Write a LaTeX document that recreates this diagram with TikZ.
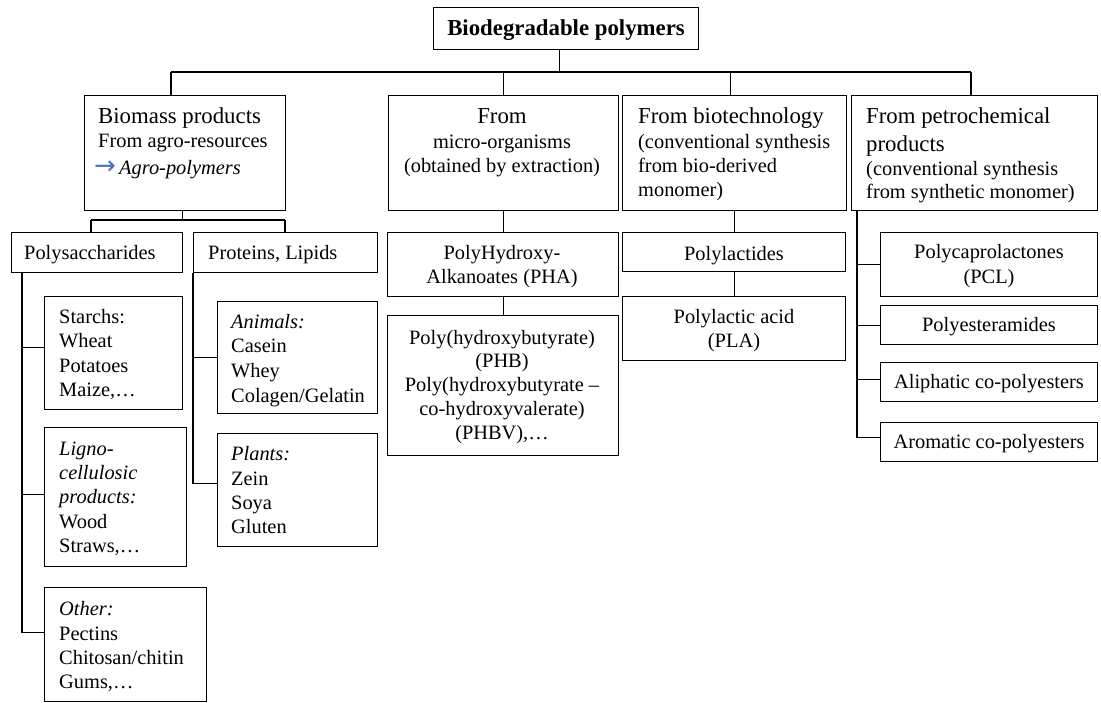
\documentclass[tikz,border=0pt]{standalone}
\usepackage{fontspec}
\setmainfont{Liberation Serif}
\newfontfamily\symfont{DejaVu Sans}
\newcommand\fsbody{\fontsize{20.4}{24}\selectfont}
\newcommand\fshead{\fontsize{22.8}{27}\selectfont}
\definecolor{arrowblue}{RGB}{68,114,196}
\newcommand\mybox[5]{\node[box, minimum width={#4-#2}, minimum height={#5-#3}] (#1) at (#2,#3) {};}
\begin{document}
\begin{tikzpicture}[x=1pt,y=-1pt,
  box/.style={draw, line width=1.1pt, inner sep=0, anchor=north west},
  conn/.style={line width=1.1pt},
  tl/.style={inner sep=0, anchor=base west, font=\fsbody},
  tc/.style={inner sep=0, anchor=base, font=\fsbody},
  hl/.style={inner sep=0, anchor=base west, font=\fshead},
  hc/.style={inner sep=0, anchor=base, font=\fshead}]
\useasboundingbox (0,0) rectangle (1101,702);

% boxes
\mybox{top}{433}{7}{698}{49}
\mybox{bio}{84}{95}{285}{210}
\mybox{mic}{388}{95}{618}{210}
\mybox{bt}{622}{95}{846}{210}
\mybox{pet}{851}{95}{1097}{210}
\mybox{poly}{11}{232}{182}{272}
\mybox{prot}{193}{232}{377}{272}
\mybox{pha}{387}{232}{618}{296}
\mybox{phb}{387}{315}{618}{455}
\mybox{plac}{622}{232}{845}{271}
\mybox{pla}{622}{296}{845}{360}
\mybox{pcl}{880}{232}{1097}{296}
\mybox{pea}{880}{305}{1097}{344}
\mybox{ali}{880}{362}{1097}{401}
\mybox{aro}{880}{422}{1097}{461}
\mybox{st}{44}{296}{182}{409}
\mybox{lig}{44}{427}{186}{566}
\mybox{oth}{44}{587}{206}{700.5}
\mybox{ani}{217}{301}{377}{413}
\mybox{pln}{217}{433}{377}{546}

% connectors
\coordinate (busL) at (171,72);
\coordinate (busR) at (971,72);
\draw[conn] (busL) -- (busR);
\draw[conn] ([xshift=-6.5]top.south) -- ([xshift=-6.5]top.south |- busL);
\draw[conn] (busL) -- (busL |- bio.north);
\draw[conn] (mic.north) -- (mic.north |- busL);
\draw[conn] ([xshift=-4]bt.north) -- ([xshift=-4]bt.north |- busL);
\draw[conn] (busR) -- (busR |- pet.north);

\coordinate (b1) at (91,220);
\coordinate (b2) at (285,220);
\draw[conn] ([xshift=-2.5]bio.south) -- ([xshift=-2.5]bio.south |- b1);
\draw[conn] (b1) -- (b2);
\draw[conn] (b1) -- (b1 |- poly.north);
\draw[conn] (b2) -- (b2 |- prot.north);

\draw[conn] (mic.south) -- (mic.south |- pha.north);
\draw[conn] (pha.south) -- (pha.south |- phb.north);
\draw[conn] (bt.south) -- (bt.south |- plac.north);
\draw[conn] (plac.south) -- (plac.south |- pla.north);

\coordinate (pv) at (857,0);
\draw[conn] (pet.south -| pv) |- ([yshift=5]aro.west);
\draw[conn] (pv |- pcl.west) -- (pcl.west);
\draw[conn] (pv |- pea.west) -- (pea.west);
\draw[conn] ([yshift=2.5]ali.west -| pv) -- ([yshift=2.5]ali.west);

\coordinate (sv) at (22,0);
\draw[conn] (poly.south -| sv) |- ([yshift=12]oth.west);
\draw[conn] ([yshift=5.5]st.west -| sv) -- ([yshift=5.5]st.west);
\draw[conn] ([yshift=2.5]lig.west -| sv) -- ([yshift=2.5]lig.west);
\draw[conn] (prot.south west) |- ([yshift=6.5]pln.west);
\draw[conn] (prot.south west |- ani.west) -- (ani.west);

% texts
\node[hc, font=\fshead\bfseries] (title) at (566,35) {Biodegradable polymers};

\node[hl] (bio1) at (98,123) {Biomass products};
\node[tl] (bio2) at (98,147) {From agro-resources};
\node[tl, font=\symfont\fontsize{26}{28}\selectfont, text=arrowblue] (bio3) at (94,174) {→};
\node[tl] (bio4) at (119,174) {\itshape Agro-polymers};

\node[hc] (mic1) at (502,123) {From};
\node[tc] (mic2) at (502,148) {micro-organisms};
\node[tc] (mic3) at (502,172) {(obtained by extraction)};

\node[hl] (bt1) at (638,123) {From biotechnology};
\node[tl] (bt2) at (638,148) {(conventional synthesis};
\node[tl] (bt3) at (638,172) {from bio-derived};
\node[tl] (bt4) at (638,196) {monomer)};

\node[hl] (pet1) at (866,123) {From petrochemical};
\node[hl] (pet2) at (866,151) {products};
\node[tl] (pet3) at (866,175) {(conventional synthesis};
\node[tl] (pet4) at (866,198) {from synthetic monomer)};

\node[tl] (poly1) at (24,259) {Polysaccharides};
\node[tl] (prot1) at (208,259) {Proteins, Lipids};

\node[tc] (pha1) at (502,259) {PolyHydroxy-};
\node[tc] (pha2) at (502,283) {Alkanoates (PHA)};

\node[tc] (phb1) at (502,344) {Poly(hydroxybutyrate)};
\node[tc] (phb2) at (502,367) {(PHB)};
\node[tc] (phb3) at (502,391) {Poly(hydroxybutyrate –};
\node[tc] (phb4) at (502,415) {co-hydroxyvalerate)};
\node[tc] (phb5) at (502,439) {(PHBV),…};

\node[tc] (plac1) at (734,260) {Polylactides};
\node[tc] (pla1) at (734,323) {Polylactic acid};
\node[tc] (pla2) at (734,347) {(PLA)};

\node[tc] (pcl1) at (989,258) {Polycaprolactones};
\node[tc] (pcl2) at (989,283) {(PCL)};
\node[tc] (pea1) at (989,331) {Polyesteramides};
\node[tc] (ali1) at (989,388) {Aliphatic co-polyesters};
\node[tc] (aro1) at (989,448) {Aromatic co-polyesters};

\node[tl] (st1) at (59,323) {Starchs:};
\node[tl] (st2) at (59,347) {Wheat};
\node[tl] (st3) at (59,372) {Potatoes};
\node[tl] (st4) at (59,396) {Maize,…};

\node[tl] (lig1) at (59,455) {\itshape Ligno-};
\node[tl] (lig2) at (59,479) {\itshape cellulosic};
\node[tl] (lig3) at (59,503) {\itshape products:};
\node[tl] (lig4) at (59,528) {Wood};
\node[tl] (lig5) at (59,552) {Straws,…};

\node[tl] (oth1) at (59,615) {\itshape Other:};
\node[tl] (oth2) at (59,640) {Pectins};
\node[tl] (oth3) at (59,664) {Chitosan/chitin};
\node[tl] (oth4) at (59,688) {Gums,…};

\node[tl] (ani1) at (231,328) {\itshape Animals:};
\node[tl] (ani2) at (231,352) {Casein};
\node[tl] (ani3) at (231,377) {Whey};
\node[tl] (ani4) at (231,402) {Colagen/Gelatin};

\node[tl] (pln1) at (231,460) {\itshape Plants:};
\node[tl] (pln2) at (231,485) {Zein};
\node[tl] (pln3) at (231,509) {Soya};
\node[tl] (pln4) at (231,533) {Gluten};
\end{tikzpicture}
\end{document}
